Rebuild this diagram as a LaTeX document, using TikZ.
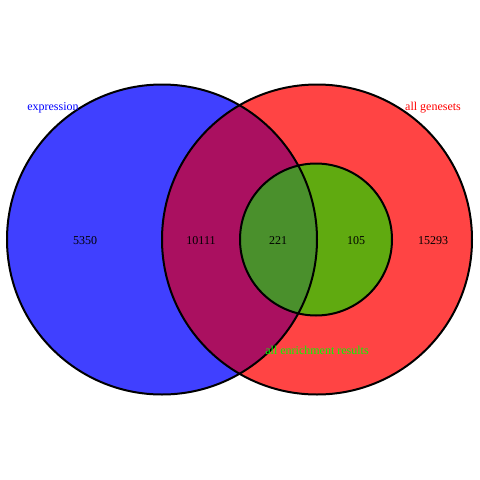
\documentclass[tikz,border=0pt]{standalone}
\usepackage{fontspec}
\setmainfont{Liberation Serif}
\definecolor{vblue}{RGB}{64,64,255}
\definecolor{vred}{RGB}{255,68,68}
\definecolor{vpurple}{RGB}{170,16,96}
\definecolor{vgreen}{RGB}{96,170,16}
\definecolor{vdgreen}{RGB}{74,144,44}
\begin{document}
\begin{tikzpicture}[x=1pt,y=-1pt,
  outline/.style={draw=black,line width=2pt},
  lbl/.style={font=\fontsize{12}{14}\selectfont,inner sep=0pt}]
\useasboundingbox (0,0) rectangle (480,480);
\coordinate (cb) at (162,239.5);
\coordinate (cr) at (317,239.5);
\coordinate (cg) at (316,239.5);
\fill[vblue] (cb) circle (155);
\fill[vred] (cr) circle (155);
\begin{scope}
  \clip (cb) circle (155);
  \fill[vpurple] (cr) circle (155);
\end{scope}
\fill[vgreen] (cg) circle (76);
\begin{scope}
  \clip (cb) circle (155);
  \fill[vdgreen] (cg) circle (76);
\end{scope}
\draw[outline] (cb) circle (155);
\draw[outline] (cr) circle (155);
\draw[outline] (cg) circle (76);
\node[lbl,text=blue] (lexp) at (53,108) {expression};
\node[lbl,text=red] (lgen) at (433,108) {all genesets};
\node[lbl,text={rgb,255:red,0;green,255;blue,0}] (lenr) at (317,350.5) {all enrichment results};
\node[lbl] (n1) at (85,241) {5350};
\node[lbl] (n2) at (201,241) {10111};
\node[lbl] (n3) at (278,241) {221};
\node[lbl] (n4) at (356,241) {105};
\node[lbl] (n5) at (433,241) {15293};
\end{tikzpicture}
\end{document}
